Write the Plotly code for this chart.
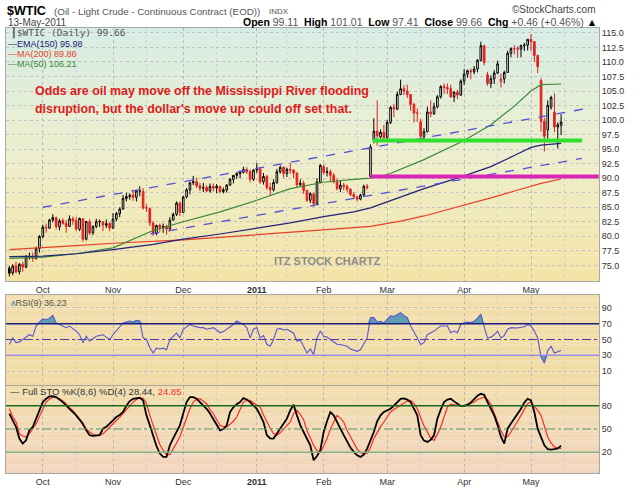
import pandas as pd
import plotly.graph_objects as go

# ---- data ----
holidays = ["2010-11-25", "2010-12-24", "2011-01-17", "2011-02-21", "2011-04-22"]
days = [d.strftime("%Y-%m-%d") for d in pd.bdate_range("2010-09-17", "2011-05-13")
        if d.strftime("%Y-%m-%d") not in holidays]

opens = [
    74.5, 73.7, 74.9, 73.9, 75.2, 74.7, 76.5, 76.4, 76.2, 77.9,
    79.9, 81.6, 81.4, 82.8, 83.2, 81.6, 82.7, 82.2, 81.7, 83.0, 82.7, 81.2, 83.0, 79.5, 82.5, 80.6, 81.7, 82.5, 82.5, 81.9, 82.2,
    81.4, 83.0, 83.9, 84.7, 86.5, 86.8, 87.1, 86.7, 87.8, 87.7, 84.9, 84.8, 82.3, 80.5, 81.9, 81.5, 81.7, 81.3, 82.8, 83.8, 85.7,
    84.1, 86.8, 88.0, 89.2, 89.4, 88.7, 88.3, 88.4, 87.8, 88.6, 88.3, 88.6, 87.7, 88.0, 88.8, 89.8, 90.5, 90.8, 91.0, 91.5, 91.1, 89.8,
    91.4, 91.6, 89.4, 90.3, 88.4, 88.0, 89.2, 91.1, 91.9, 90.8, 91.5, 91.4, 90.9, 88.9, 89.1, 87.9, 86.2, 87.3, 85.6, 89.3,
    92.0, 91.0, 91.1, 90.5, 89.4, 88.2, 88.8, 88.6, 88.1, 87.2, 86.8, 86.4, 87.1, 88.6, 90.3, 96.6, 98.1, 97.1, 97.9,
    97.0, 99.6, 102.2, 101.9, 104.4, 105.4, 105.0, 104.4, 102.7, 101.2, 99.7, 97.2, 98.0, 101.4, 101.1, 102.3, 104.0, 105.8, 105.6, 105.4, 104.0, 104.8, 104.3,
    106.7, 107.9, 108.5, 108.3, 108.8, 110.3, 112.8, 107.8, 106.3, 107.1, 108.1, 106.6, 107.1, 108.2, 111.5, 112.3, 112.3, 112.2, 112.8, 112.9,
    113.9, 113.5, 111.1, 106.8, 99.8, 98.3, 102.2, 101.4, 98.8, 99.11,
]
highs = [
    74.9, 75.2, 75.6, 75.4, 75.6, 76.8, 77.2, 77.2, 78.2, 80.2,
    82.0, 82.2, 83.0, 83.8, 83.4, 83.0, 83.1, 82.8, 83.6, 83.4, 83.3, 83.2, 83.1, 82.6, 82.9, 81.9, 83.0, 82.9, 82.6, 82.9, 82.4,
    84.0, 84.2, 85.0, 87.1, 87.5, 87.4, 88.0, 88.0, 88.6, 88.3, 85.5, 84.9, 82.6, 82.0, 82.2, 82.2, 82.0, 83.3, 84.1, 86.0, 86.0,
    87.0, 88.3, 89.4, 90.4, 90.1, 89.2, 89.2, 88.8, 89.1, 89.1, 89.0, 88.7, 88.4, 89.0, 90.0, 90.5, 91.0, 91.3, 92.0, 91.9, 91.5, 91.6,
    92.6, 91.9, 90.9, 90.6, 89.2, 89.8, 91.6, 92.2, 92.0, 91.8, 92.6, 91.5, 91.0, 89.8, 89.6, 88.0, 87.6, 87.5, 90.0, 92.4,
    92.4, 91.9, 91.5, 90.9, 89.9, 89.6, 89.2, 88.9, 88.3, 87.6, 87.0, 87.3, 88.9, 89.0, 95.8, 100.3, 103.4, 98.4, 99.2,
    100.0, 102.4, 102.8, 104.9, 106.95, 106.0, 106.1, 104.5, 103.0, 102.0, 100.2, 98.6, 102.3, 103.4, 103.0, 104.3, 106.0, 106.3, 106.3, 106.1, 105.0, 105.2, 107.0,
    108.8, 108.7, 108.9, 109.3, 110.5, 113.5, 113.0, 108.3, 107.7, 108.6, 110.2, 108.0, 108.5, 111.9, 112.5, 112.9, 112.7, 113.0, 113.3, 113.9,
    114.8, 113.6, 111.3, 107.2, 100.4, 103.4, 104.2, 104.6, 99.6, 101.01,
]
lows = [
    73.1, 73.3, 73.6, 73.4, 73.9, 74.5, 76.0, 75.6, 76.0, 77.2,
    79.7, 80.6, 81.3, 82.4, 81.2, 81.0, 82.0, 80.6, 81.6, 82.0, 80.9, 80.9, 79.1, 79.3, 80.2, 80.2, 81.4, 81.6, 80.9, 81.4, 80.9,
    81.3, 82.6, 83.3, 84.6, 86.0, 86.3, 86.1, 86.0, 86.9, 84.6, 84.2, 81.8, 80.1, 80.2, 80.8, 80.6, 80.3, 81.1, 82.7, 83.5, 83.5,
    84.0, 86.5, 87.2, 88.8, 88.3, 87.8, 87.6, 87.6, 87.5, 87.7, 87.4, 87.4, 87.4, 87.5, 88.7, 89.1, 89.9, 90.0, 90.8, 90.7, 89.3, 89.5,
    90.9, 89.0, 88.9, 88.0, 87.1, 87.7, 89.1, 90.8, 90.1, 90.2, 90.7, 90.0, 88.4, 88.5, 87.3, 85.9, 85.7, 85.1, 85.5, 89.1,
    90.6, 90.3, 89.3, 89.1, 87.9, 87.6, 87.9, 87.5, 86.9, 86.5, 86.0, 86.2, 86.9, 88.0, 90.1, 96.0, 95.6, 96.8, 96.7,
    96.8, 99.3, 100.5, 101.7, 104.3, 104.3, 103.8, 101.6, 99.6, 99.7, 96.2, 96.6, 97.9, 100.5, 100.9, 102.0, 103.7, 104.5, 104.5, 103.8, 103.1, 103.6, 104.2,
    106.0, 107.3, 107.0, 107.9, 108.2, 110.1, 109.4, 105.9, 105.5, 106.2, 107.9, 105.6, 106.3, 108.1, 110.8, 111.3, 110.7, 110.8, 111.9, 112.0,
    111.9, 110.0, 108.1, 98.0, 94.6, 96.8, 101.8, 97.9, 95.1, 97.41,
]
closes = [
    73.66, 74.86, 73.86, 75.18, 74.71, 76.49, 76.52, 76.18, 77.86, 79.97,
    81.58, 81.47, 82.82, 83.23, 81.67, 82.66, 82.21, 81.67, 83.01, 82.69, 81.25, 83.08, 79.49, 82.54, 80.56, 81.69, 82.52, 82.55, 81.94, 82.18, 81.43,
    82.95, 83.90, 84.69, 86.49, 86.85, 87.06, 86.72, 87.81, 87.81, 84.88, 84.86, 82.34, 80.44, 81.85, 81.51, 81.74, 81.25, 82.75, 83.76, 85.73, 84.11,
    86.75, 88.00, 89.19, 89.38, 88.69, 88.28, 88.37, 87.79, 88.61, 88.28, 88.62, 87.70, 88.02, 88.81, 89.82, 90.48, 90.83, 91.00, 91.49, 91.12, 89.84, 91.38,
    91.55, 89.38, 90.30, 88.38, 88.03, 89.25, 91.11, 91.86, 90.81, 91.54, 91.38, 90.86, 88.86, 89.11, 87.87, 86.19, 87.33, 85.64, 89.34, 92.19,
    91.0, 91.1, 90.5, 89.4, 88.2, 88.8, 88.6, 88.1, 87.2, 86.8, 86.4, 87.1, 88.6, 88.4, 95.4, 98.1, 97.3, 97.9, 97.0,
    99.6, 102.2, 101.9, 104.4, 105.4, 105.0, 104.4, 102.7, 101.2, 101.19, 97.2, 98.0, 101.4, 101.1, 102.3, 104.0, 105.75, 105.6, 105.4, 104.0, 104.8, 104.3, 106.7,
    107.9, 108.5, 108.3, 108.8, 110.3, 112.8, 109.9, 106.3, 107.1, 108.1, 109.7, 107.1, 108.2, 111.5, 112.3, 112.28, 112.2, 112.8, 112.9, 113.9,
    113.5, 111.1, 109.2, 99.8, 97.2, 102.55, 103.9, 98.8, 99.2, 99.66,
]

# overlays, sampled along the curves
ma_dates = ["2010-09-17", "2010-10-01", "2010-10-15", "2010-11-01", "2010-11-17", "2010-12-01",
            "2010-12-16", "2011-01-03", "2011-01-18", "2011-02-01", "2011-02-14", "2011-02-22",
            "2011-03-01", "2011-03-07", "2011-03-16", "2011-04-01", "2011-04-13", "2011-04-25",
            "2011-05-02", "2011-05-05", "2011-05-13"]
ema150 = [76.5, 76.6, 77.0, 77.7, 78.6, 79.5, 80.4, 81.4, 82.3, 83.4, 84.2, 84.9,
          85.9, 86.8, 88.2, 90.4, 92.0, 93.9, 95.3, 95.7, 95.98]
ma200 = [77.7, 78.1, 78.4, 78.8, 79.1, 79.4, 79.8, 80.3, 80.7, 81.1, 81.5, 81.7,
         82.2, 82.6, 83.5, 85.3, 86.6, 87.8, 88.6, 89.1, 89.86]
ma50 = [76.2, 76.4, 77.0, 78.0, 81.0, 82.5, 84.2, 86.2, 88.2, 89.3, 89.8, 90.0,
        90.6, 91.5, 93.2, 96.5, 99.2, 102.4, 105.0, 106.1, 106.21]

# hand drawn lines
upper_trend_x = ["2010-10-01", "2011-05-25 14:00"]
upper_trend_y = [85.0, 102.1]
lower_trend_x = ["2010-11-16 05:00", "2011-05-23 05:00"]
lower_trend_y = [80.4, 93.4]
support_x = ["2011-02-22 16:00", "2011-05-23 07:00"]
support_y = [96.5, 96.5]
floor_x = ["2011-02-22", "2011-05-30 06:00"]
floor_y = [90.3, 90.3]

rsi9 = [
    43.6, 52, 46, 47, 50, 53, 56, 54, 67, 72,
    76, 75, 77, 80.6, 71, 69, 67, 65, 67, 64, 60.6, 56, 46, 54, 48, 51, 54, 55, 56, 53, 50,
    56, 60.6, 65, 71, 72, 73.4, 72, 74.3, 73.4, 52, 50, 40, 33, 39, 38, 39, 37, 50, 54, 58, 52,
    63, 66, 69, 67, 66, 65, 65, 63, 64, 65, 62, 58.5, 60, 63, 66, 69, 73.4, 71, 69, 65, 52, 63,
    65, 52, 55, 44, 41.5, 50, 63, 64, 62, 63, 60.6, 58, 48, 49, 41.5, 33, 38, 30.9, 52, 60.6,
    54, 53, 50, 47, 44, 43.6, 43, 41.5, 38, 36, 35, 37, 45, 52, 77.7, 77.7, 72, 73, 71,
    76, 80, 79, 82, 84, 80, 77.7, 67, 60, 52, 43.6, 46, 56, 58, 60.6, 64, 67, 67, 67, 58.5, 60.6, 58.5, 69,
    71, 72, 71.5, 73, 77, 82, 66, 52, 53, 56, 60.6, 52, 55, 63, 65, 65, 64.5, 65.5, 66, 69,
    67, 60.6, 52, 28, 20, 36, 41.5, 33, 35, 36.23,
]
sto_k = [
    69.7, 60, 52.6, 37.6, 31.1, 35.4, 48.3, 52.6, 63.3, 75,
    84.7, 89, 92, 92.5, 91.1, 88, 84.7, 80, 76.1, 72, 67.6, 62, 56.9, 48.3, 41.9, 41, 41.5, 41.9, 50.4, 53, 56.9,
    61, 65.4, 68, 71.9, 80, 86, 89, 90, 90.3, 86.9, 67.6, 55, 41.9, 28, 18.3, 14, 14, 29, 38, 46.1, 54.7,
    70, 84.7, 91.1, 91, 89, 84.7, 80, 76.1, 70, 63.3, 55, 48.3, 50, 54.7, 71.9, 78, 82, 84.7, 90, 88, 84.7, 80,
    76.1, 68, 59, 41.9, 38, 37.6, 44, 50.4, 57, 63.3, 74, 81.3, 67.6, 55, 46.1, 37, 29, 9.7, 15, 22.6,
    46.1, 60, 71.9, 67.6, 58, 50.4, 42, 33.3, 26, 20.4, 16, 14, 17, 24.7, 35, 46.1, 60, 67.6, 71.9,
    74, 76.1, 80, 84.7, 89, 89.5, 88, 84.7, 75, 67.6, 41.9, 35, 33.3, 36, 41.9, 63.3, 75, 84.7, 88, 89, 85.6, 82, 79.6,
    80, 81.3, 84, 89, 93, 95.4, 94.1, 84.7, 76, 67.6, 55, 40, 31.1, 50.4, 57, 63.3, 70, 76.1, 84, 89,
    86.9, 71.9, 50.4, 40, 29, 24, 23.4, 24, 25, 28.44,
]
sto_d = [
    76.1, 66, 59, 44, 41, 39.7, 44, 50, 56.9, 66,
    76.1, 84.7, 88.5, 91.1, 90.5, 89, 86, 82.6, 77, 74, 68, 63.3, 54.7, 50, 46.1, 43, 41.9, 42, 44, 48, 52.6,
    57, 61, 65, 70, 76, 80, 84.7, 88, 89.9, 89.5, 83, 67.6, 54, 41.9, 30, 22.6, 17, 17, 24, 32, 40,
    52, 65, 76, 84.7, 88, 89, 86, 82.6, 75, 69.7, 62, 54.7, 53, 52.6, 56, 60, 65.4, 76, 84.7, 87, 86.9, 84,
    81, 78.3, 68, 59, 51, 44, 42, 45, 50, 55, 59, 70, 74, 69, 62, 48, 38, 29, 22, 19.6,
    28, 37.6, 50, 59, 67.6, 64, 59, 48, 40, 30, 24, 19.6, 18, 18.3, 26, 37.6, 46, 53, 59,
    66, 71.9, 75, 78, 80.4, 84, 86, 86.9, 83, 76.1, 64, 54, 46.1, 38, 35.4, 43, 52.6, 65, 78.3, 82, 81, 80.4, 80,
    79.6, 81, 83, 84.7, 88, 90, 91.1, 88, 82, 70, 59, 48, 39.7, 40, 46.1, 54, 60, 67.6, 75, 82.6,
    84.7, 80, 74, 67.6, 53, 39.7, 32, 26.9, 25.5, 24.85,
]

month_ticks = ["2010-10-01", "2010-11-01", "2010-12-01", "2011-01-03", "2011-02-01",
               "2011-03-01", "2011-04-01", "2011-05-02"]
month_text = ["Oct", "Nov", "Dec", "<b>2011</b>", "Feb", "Mar", "Apr", "May"]
mid_ticks = ["2010-10-15", "2010-11-15", "2010-12-15", "2011-01-14", "2011-02-15",
             "2011-03-15", "2011-04-15", "2011-05-16"]
price_ticks = [75 + 2.5 * k for k in range(17)]

# ---- figure ----
RED = "#e3201f"
fig = go.Figure()

# StockCharts colouring: black if close >= previous close, red otherwise
prev = [closes[0]] + closes[:-1]
up_i = [i for i in range(len(days)) if closes[i] >= prev[i]]
dn_i = [i for i in range(len(days)) if closes[i] < prev[i]]
for idx, col in ((up_i, "#000000"), (dn_i, RED)):
    fig.add_trace(go.Candlestick(
        x=[days[i] for i in idx], open=[opens[i] for i in idx], high=[highs[i] for i in idx],
        low=[lows[i] for i in idx], close=[closes[i] for i in idx],
        increasing=dict(line=dict(color=col, width=1), fillcolor="white"),
        decreasing=dict(line=dict(color=col, width=1), fillcolor=col),
        whiskerwidth=0, showlegend=False, hoverinfo="skip", xaxis="x", yaxis="y"))

for vals, col in ((ma200, "#e8402a"), (ma50, "#3a8a3a"), (ema150, "#22227a")):
    fig.add_trace(go.Scatter(x=ma_dates, y=vals, mode="lines", line=dict(color=col, width=1.2),
                             showlegend=False, xaxis="x", yaxis="y"))

for xs, ys in ((upper_trend_x, upper_trend_y), (lower_trend_x, lower_trend_y)):
    fig.add_trace(go.Scatter(x=xs, y=ys, mode="lines", line=dict(color="#5050d8", width=1.3, dash="dash"),
                             showlegend=False, xaxis="x", yaxis="y"))
fig.add_trace(go.Scatter(x=support_x, y=support_y, mode="lines", line=dict(color="#2fe02f", width=4),
                         showlegend=False, xaxis="x", yaxis="y"))
fig.add_trace(go.Scatter(x=floor_x, y=floor_y, mode="lines", line=dict(color="#d926b4", width=4),
                         showlegend=False, xaxis="x", yaxis="y"))

# RSI with shaded extremes
n = len(days)
for lvl, clip in ((70, [max(v, 70) for v in rsi9]), (30, [min(v, 30) for v in rsi9])):
    fig.add_trace(go.Scatter(x=days, y=[lvl] * n, mode="lines", line=dict(width=0),
                             showlegend=False, hoverinfo="skip", xaxis="x2", yaxis="y2"))
    fig.add_trace(go.Scatter(x=days, y=clip, mode="lines", line=dict(width=0), fill="tonexty",
                             fillcolor="#5f9eb2", showlegend=False, hoverinfo="skip",
                             xaxis="x2", yaxis="y2"))
fig.add_trace(go.Scatter(x=days, y=rsi9, mode="lines", line=dict(color="#5a55d0", width=1.1),
                         showlegend=False, xaxis="x2", yaxis="y2"))

fig.add_trace(go.Scatter(x=days, y=sto_d, mode="lines", line=dict(color="#ff2a2a", width=1.2),
                         showlegend=False, xaxis="x3", yaxis="y3"))
fig.add_trace(go.Scatter(x=days, y=sto_k, mode="lines", line=dict(color="#000000", width=1.8),
                         showlegend=False, xaxis="x3", yaxis="y3"))

# panel backgrounds (vertical gradients)
def mix(stops, t):
    for (p0, c0), (p1, c1) in zip(stops, stops[1:]):
        if p0 <= t <= p1:
            f = (t - p0) / (p1 - p0)
            return "rgb(%d,%d,%d)" % tuple(round(a + (b - a) * f) for a, b in zip(c0, c1))
    return "rgb(%d,%d,%d)" % stops[-1][1]

shapes = []
panels = [("y domain", [(0, (244, 227, 164)), (0.5, (237, 238, 204)), (1, (214, 237, 229))]),
          ("y2 domain", [(0, (241, 218, 162)), (1, (242, 222, 170))]),
          ("y3 domain", [(0, (242, 212, 190)), (1, (241, 221, 170))])]
for yref, stops in panels:
    nb = 40
    for i in range(nb):
        shapes.append(dict(type="rect", xref="paper", yref=yref, x0=0, x1=1, y0=i / nb, y1=(i + 1) / nb,
                           fillcolor=mix(stops, (i + 0.5) / nb), line=dict(width=0), layer="below"))

for yref, lvl, col, dash, w in (("y2", 70, "#1c1c80", "solid", 1.5), ("y2", 50, "#4a3fa8", "dashdot", 1.2),
                               ("y2", 30, "#9b8de6", "solid", 1.5), ("y3", 80, "#1d6a1d", "solid", 1.5),
                               ("y3", 50, "#5e9a5e", "dashdot", 1.2), ("y3", 20, "#7fb27f", "solid", 1.5)):
    shapes.append(dict(type="line", xref="paper", yref=yref, x0=0, x1=1, y0=lvl, y1=lvl,
                       line=dict(color=col, width=w, dash=dash), layer="above"))

# ---- text ----
TOP, BOT = 28, 478   # plot area in pixels


def px(x):
    return (x - 5) / 594


def py(y):
    return (BOT - y) / (BOT - TOP)


F = "Liberation Sans, Arial, sans-serif"
ann = [
    dict(x=px(4), y=py(11), text="<b>$WTIC</b>", font=dict(size=12.5, color="#000", family=F), xanchor="left"),
    dict(x=px(51), y=py(11), text="(Oil - Light Crude - Continuous Contract (EOD))",
         font=dict(size=9.8, color="#555", family=F), xanchor="left"),
    dict(x=px(266), y=py(11), text="INDX", font=dict(size=8, color="#555", family=F), xanchor="left"),
    dict(x=px(598), y=py(9), text="\u00a9StockCharts.com", font=dict(size=10, color="#444", family=F), xanchor="right"),
    dict(x=px(5), y=py(22), text="13-May-2011", font=dict(size=10, color="#444", family=F), xanchor="left"),
    dict(x=px(599), y=py(22),
         text="<b>Open</b> <span style='color:#555'>99.11</span>  <b>High</b> <span style='color:#555'>101.01</span>  "
              "<b>Low</b> <span style='color:#555'>97.41</span>  <b>Close</b> <span style='color:#555'>99.66</span>  "
              "<b>Chg</b> <span style='color:#555'>+0.46 (+0.46%)</span> \u25b2",
         font=dict(size=10.5, color="#000", family=F), xanchor="right"),
    dict(x=px(8), y=py(33), text="\u2503$WTIC (Daily) 99.66", font=dict(size=9.5, color="#555", family="DejaVu Sans Mono"),
         xanchor="left"),
    dict(x=px(5), y=py(44), text="\u2014EMA(150) 95.98", font=dict(size=9, color="#22227a", family=F), xanchor="left"),
    dict(x=px(5), y=py(54), text="\u2014MA(200) 89.86", font=dict(size=9, color="#e8402a", family=F), xanchor="left"),
    dict(x=px(5), y=py(64), text="\u2014MA(50) 106.21", font=dict(size=9, color="#3a8a3a", family=F), xanchor="left"),
    dict(x=px(32), y=py(92), text="<b>Odds are oil may move off the Mississippi River flooding</b>",
         font=dict(size=12.4, color="#e01a1a", family=F), xanchor="left"),
    dict(x=px(32), y=py(110), text="<b>disruption, but the dollar's move up could off set that.</b>",
         font=dict(size=12.4, color="#e01a1a", family=F), xanchor="left"),
    dict(x=px(327), y=py(264), text="<b>ITZ STOCK CHARTZ</b>", font=dict(size=11, color="#8c8c8c", family=F)),
    dict(x=px(8), y=py(306), text="<span style='color:#4a6fd0'>\u028c</span>RSI(9) 36.23",
         font=dict(size=9, color="#555", family=F), xanchor="left"),
    dict(x=px(7), y=py(396),
         text="\u2014 Full STO %K(8,6) %D(4) 28.44, <span style='color:#ff2a2a'>24.85</span>",
         font=dict(size=9.5, color="#333", family=F), xanchor="left"),
]
for a in ann:
    a.update(xref="paper", yref="paper", showarrow=False, yanchor="middle")

breaks = [dict(bounds=["sat", "mon"]), dict(values=holidays)]
xcommon = dict(type="date", range=["2010-09-16", "2011-05-30 08:00"], rangebreaks=breaks,
               tickvals=month_ticks, ticktext=month_text, showgrid=True, gridcolor="#b8b8b8",
               griddash="dot", gridwidth=1, ticks="", tickfont=dict(size=9, color="#333", family=F),
               showline=True, mirror=True, linecolor="#a8a8a8", linewidth=1, zeroline=False,
               minor=dict(tickvals=mid_ticks, showgrid=True, gridcolor="#cfcfcf", griddash="dot"))
ycommon = dict(side="right", showgrid=True, gridcolor="#c4c4c4", griddash="dot", ticks="",
               tickfont=dict(size=9, color="#333", family=F), showline=True, mirror=True,
               linecolor="#a8a8a8", linewidth=1, zeroline=False, fixedrange=True)


def dom(y_top, y_bot):
    return [py(y_bot), py(y_top)]


fig.update_layout(
    width=640, height=492, autosize=False,
    margin=dict(l=5, r=41, t=TOP, b=492 - BOT),
    paper_bgcolor="white", plot_bgcolor="rgba(0,0,0,0)",
    showlegend=False, hovermode=False, shapes=shapes, annotations=ann,
    xaxis=dict(xcommon, domain=[0, 1], anchor="y", rangeslider=dict(visible=False)),
    xaxis2=dict(xcommon, domain=[0, 1], anchor="y2", matches="x", showticklabels=False),
    xaxis3=dict(xcommon, domain=[0, 1], anchor="y3", matches="x"),
    yaxis=dict(ycommon, domain=dom(28, 284), anchor="x", range=[72.28, 115.85],
               tickvals=price_ticks, tickformat=".1f"),
    yaxis2=dict(ycommon, domain=dom(298, 389), anchor="x2", range=[-7.5, 106.25], tickvals=[10, 30, 50, 70, 90]),
    yaxis3=dict(ycommon, domain=dom(390, 478), anchor="x3", range=[-6.8, 105.5], tickvals=[20, 50, 80]),
)

# the page's default body margin would push the chart off its 640x492 frame
fig.write_html("out.html", config={"displayModeBar": False},
               post_script="document.body.style.margin='0px';")
